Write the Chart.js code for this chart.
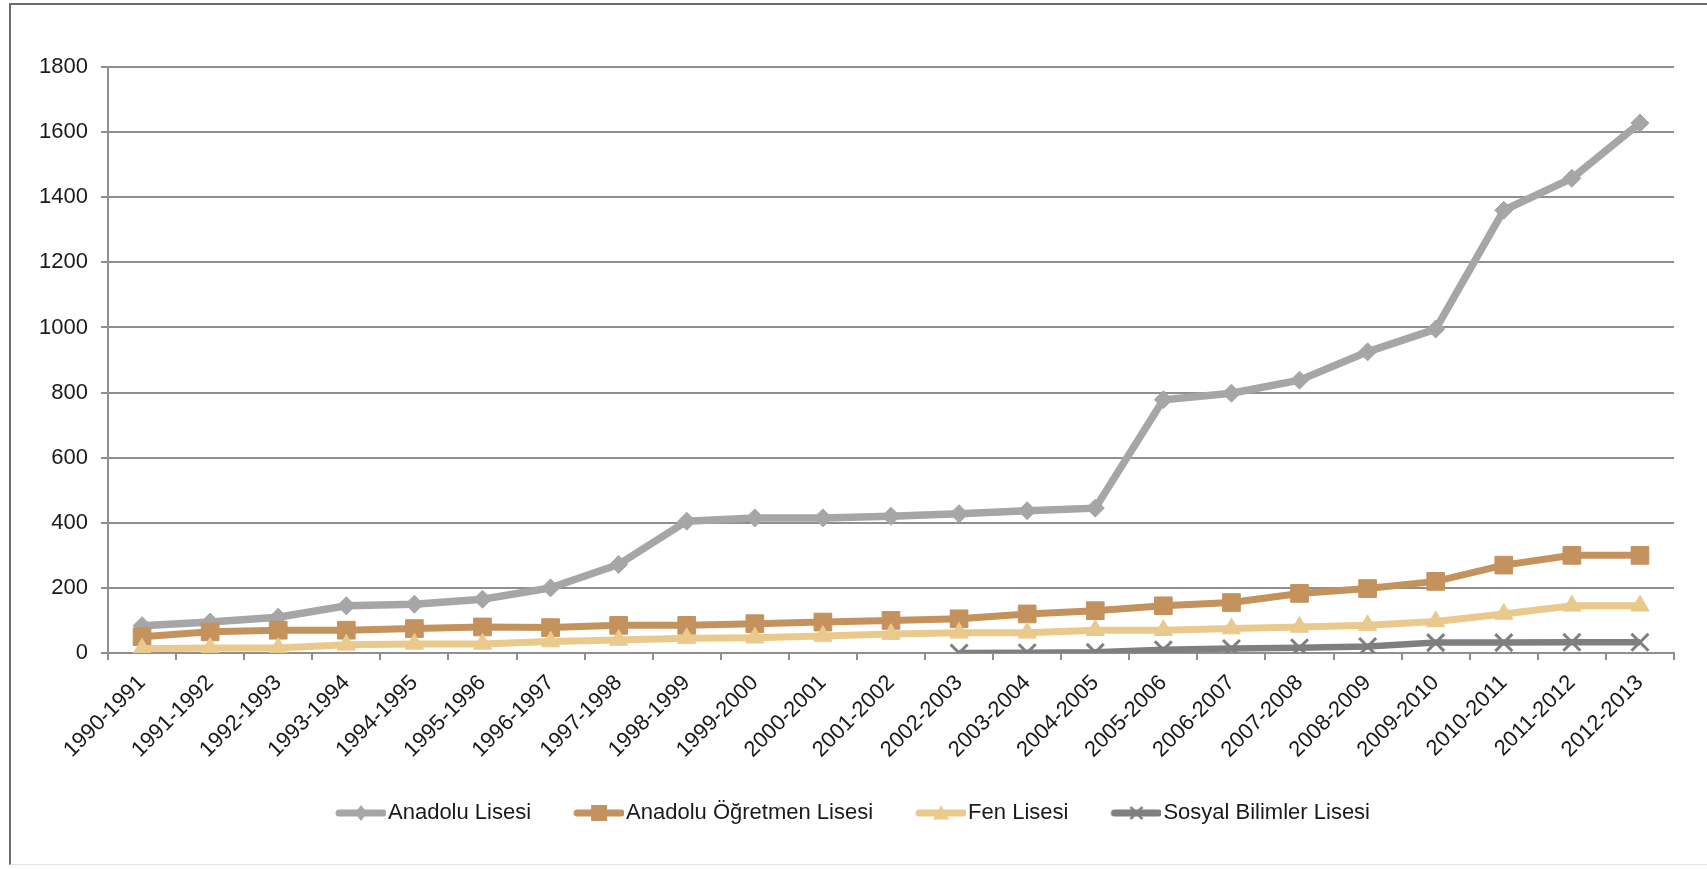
<!DOCTYPE html>
<html>
<head>
<meta charset="utf-8">
<script src="https://cdn.jsdelivr.net/npm/chart.js@4.4.1/dist/chart.umd.min.js"></script>
<style>
html,body{margin:0;padding:0;background:#fff;overflow:hidden;}
#frame{position:absolute;left:9px;top:3px;width:1720px;height:862px;border-left:2px solid #6b6b6b;border-top:2px solid #6b6b6b;border-bottom:1px solid #e2e2e2;box-sizing:border-box;}
#wrap{position:absolute;left:0;top:0;width:1707px;height:869px;}
</style>
</head>
<body>
<div id="frame"></div>
<div id="wrap"><canvas id="c" width="1707" height="869"></canvas></div>
<script>
const categories = ["1990-1991","1991-1992","1992-1993","1993-1994","1994-1995","1995-1996","1996-1997","1997-1998","1998-1999","1999-2000","2000-2001","2001-2002","2002-2003","2003-2004","2004-2005","2005-2006","2006-2007","2007-2008","2008-2009","2009-2010","2010-2011","2011-2012","2012-2013"];
const anadoluLisesi = [84,95,110,145,150,165,200,272,405,415,415,420,428,437,445,778,798,838,925,995,1360,1458,1628];
const anadoluOgretmen = [50,65,70,70,75,80,78,85,85,90,95,100,105,120,130,145,155,183,198,220,270,300,300];
const fenLisesi = [13,15,15,25,28,28,35,40,45,47,52,58,62,62,70,70,75,80,85,97,120,145,145];
const sosyalBilimler = [null,null,null,null,null,null,null,null,null,null,null,null,0,1,2,10,14,16,20,32,32,33,33];
const yTicks = [0,200,400,600,800,1000,1200,1400,1600,1800];

const FONT = "'Liberation Sans', Arial, sans-serif";
const TXT = "#1a1a1a";
const GRID = "#8f8f8f";
const BOXW = 40;

function legendIcon(color, style, r) {
  const W = BOXW + 18, H = 24;
  const cv = document.createElement('canvas');
  cv.width = W; cv.height = H;
  const g = cv.getContext('2d');
  g.strokeStyle = color; g.fillStyle = color; g.lineWidth = 7; g.lineCap = 'round';
  const x0 = W - 50 + 3, x1 = W - 3;
  g.beginPath(); g.moveTo(x0, H / 2); g.lineTo(x1, H / 2); g.stroke();
  const cx = (x0 + x1) / 2, cy = H / 2;
  g.beginPath();
  if (style === 'diamond') { g.moveTo(cx, cy - r); g.lineTo(cx + r * 0.75, cy); g.lineTo(cx, cy + r); g.lineTo(cx - r * 0.75, cy); g.closePath(); g.fill(); }
  else if (style === 'square') { g.rect(cx - r, cy - r, 2 * r, 2 * r); g.fill(); }
  else if (style === 'triangle') { g.moveTo(cx, cy - r); g.lineTo(cx + r, cy + r * 0.8); g.lineTo(cx - r, cy + r * 0.8); g.closePath(); g.fill(); }
  else { g.lineWidth = 2.5; g.lineCap = 'butt'; g.moveTo(cx - r, cy - r); g.lineTo(cx + r, cy + r); g.moveTo(cx + r, cy - r); g.lineTo(cx - r, cy + r); g.stroke(); }
  return cv;
}

const series = [
  {label: "Anadolu Lisesi", data: anadoluLisesi, color: "#a6a6a8", pointStyle: 'rectRot', radius: 9, width: 7.5, icon: 'diamond', ir: 8},
  {label: "Anadolu Öğretmen Lisesi", data: anadoluOgretmen, color: "#c4925d", pointStyle: 'rect', radius: 12.5, width: 7, icon: 'square', ir: 8},
  {label: "Fen Lisesi", data: fenLisesi, color: "#e9c98c", pointStyle: 'triangle', radius: 10.5, width: 7, icon: 'triangle', ir: 8},
  {label: "Sosyal Bilimler Lisesi", data: sosyalBilimler, color: "#7f7f82", pointStyle: 'crossRot', radius: 12, width: 6.5, icon: 'cross', ir: 6}
];

const icons = series.map(s => legendIcon(s.color, s.icon, s.ir));

new Chart(document.getElementById('c'), {
  type: 'line',
  data: {
    labels: categories,
    datasets: series.map((s, i) => ({
      label: s.label,
      data: s.data,
      order: series.length - i,
      borderColor: s.color,
      backgroundColor: s.color,
      borderWidth: s.width,
      pointStyle: s.pointStyle,
      pointRadius: s.radius,
      pointBorderWidth: s.pointStyle === 'crossRot' ? 3 : 1,
      pointBorderColor: s.color,
      pointBackgroundColor: s.color,
      tension: 0,
      spanGaps: false
    }))
  },
  options: {
    responsive: false,
    animation: false,
    devicePixelRatio: 1,
    layout: {padding: {left: 0, right: 0, top: 67, bottom: 35}},
    plugins: {
      tooltip: {enabled: false},
      legend: {
        position: 'bottom',
        labels: {
          usePointStyle: true,
          pointStyleWidth: BOXW,
          padding: 44,
          color: TXT,
          font: {family: FONT, size: 22},
          generateLabels(chart) {
            const items = Chart.defaults.plugins.legend.labels.generateLabels(chart);
            items.sort((a, b) => a.datasetIndex - b.datasetIndex);
            items.forEach(it => { it.pointStyle = icons[it.datasetIndex]; it.fontColor = TXT; });
            return items;
          }
        }
      }
    },
    scales: {
      x: {
        offset: true,
        grid: {display: true, drawOnChartArea: false, drawTicks: true, tickLength: 7, offset: true, color: GRID, lineWidth: 2},
        border: {display: true, color: GRID, width: 2},
        ticks: {color: TXT, font: {family: FONT, size: 22}, minRotation: 45, maxRotation: 45, padding: 10, autoSkip: false},
        afterFit(s) { s.height = 105; }
      },
      y: {
        min: 0, max: 1800,
        afterBuildTicks(s) { s.ticks = yTicks.map(v => ({value: v})); },
        grid: {color: GRID, lineWidth: 2, drawTicks: true, tickLength: 7},
        border: {display: true, color: GRID, width: 2},
        ticks: {color: TXT, font: {family: FONT, size: 22}, padding: 13, callback: v => String(v)},
        afterFit(s) { s.width = 108; }
      },
      y2: {
        position: 'right',
        display: true,
        grid: {display: false},
        border: {display: false},
        ticks: {display: false},
        afterFit(s) { s.width = 33; }
      }
    }
  }
});
</script>
</body>
</html>
